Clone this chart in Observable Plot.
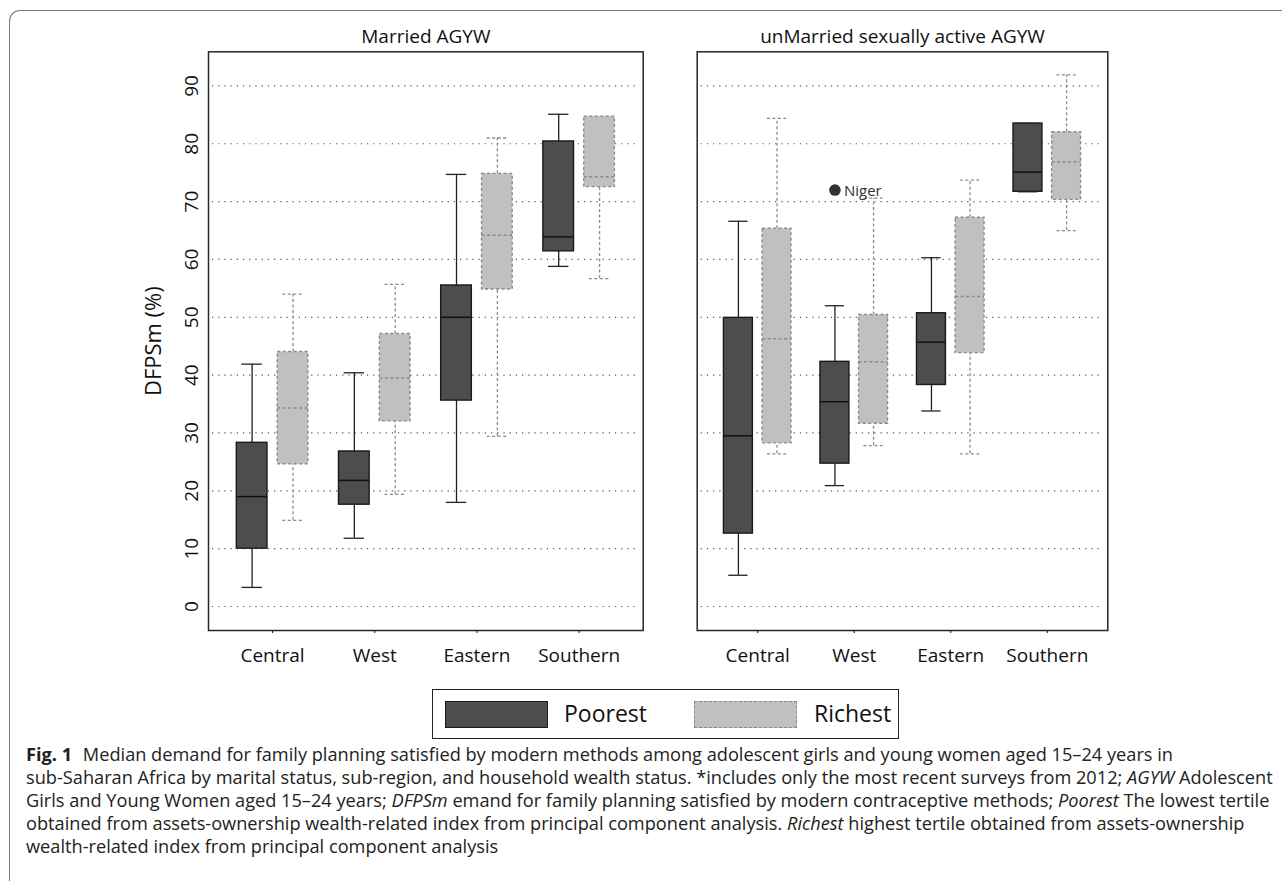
<!DOCTYPE html>
<html>
<head>
<meta charset="utf-8">
<script src="https://cdn.jsdelivr.net/npm/d3@7"></script>
<script src="https://cdn.jsdelivr.net/npm/@observablehq/plot@0.6"></script>
<style>
  html, body { margin: 0; padding: 0; background: #fff; }
  #root { position: relative; width: 1282px; height: 881px; overflow: hidden; font-family: "Open Sans", sans-serif; color: #111; }
  #frame { position: absolute; left: 9px; top: 10px; width: 1300px; height: 900px; border-top: 1.5px solid #7a7a7a; border-left: 1.5px solid #7a7a7a; border-top-left-radius: 11px; }
  #left { position: absolute; left: 0; top: 0; }
  #right { position: absolute; left: 660px; top: 0; }
  #legend { position: absolute; left: 432px; top: 689px; width: 467px; height: 50px; box-sizing: border-box; border: 1.5px solid #222; }
  #legend .sw { position: absolute; box-sizing: border-box; }
  #legend .lab { position: absolute; font-size: 23px; line-height: 26px; }
  #caption { position: absolute; left: 26px; top: 743px; font-size: 18.2px; line-height: 23px; color: #222; white-space: nowrap; }
  #caption b { font-weight: 700; margin-right: 6px; }
</style>
</head>
<body>
<div id="root">
  <div id="frame"></div>
  <div id="left"></div>
  <div id="right"></div>
  <div id="legend"></div>
  <div id="caption"></div>
</div>
<script>
// ---------- data ----------
const regions = ["Central", "West", "Eastern", "Southern"];
const wealthGroups = ["Poorest", "Richest"];
const panels = ["Married AGYW", "unMarried sexually active AGYW"];
const yTicks = [0, 10, 20, 30, 40, 50, 60, 70, 80, 90];
const yLabel = "DFPSm (%)";

// five-number summaries per region: [low whisker, Q1, median, Q3, high whisker]
const marriedPoorest = [
  [3.3, 10.0, 19.0, 28.3, 41.9],
  [11.8, 17.6, 21.8, 26.8, 40.4],
  [18.0, 35.6, 50.0, 55.5, 74.7],
  [58.8, 61.4, 63.9, 80.4, 85.1]
];
const marriedRichest = [
  [14.9, 24.6, 34.3, 44.0, 54.0],
  [19.4, 32.0, 39.5, 47.1, 55.7],
  [29.4, 54.8, 64.2, 74.8, 81.0],
  [56.7, 72.5, 74.3, 84.7, 84.7]
];
const unmarriedPoorest = [
  [5.4, 12.6, 29.5, 49.9, 66.6],
  [20.9, 24.7, 35.4, 42.3, 52.0],
  [33.8, 38.3, 45.7, 50.7, 60.3],
  [71.7, 71.7, 75.1, 83.5, 83.5]
];
const unmarriedRichest = [
  [26.4, 28.2, 46.3, 65.3, 84.4],
  [27.8, 31.6, 42.3, 50.4, 70.6],
  [26.4, 43.8, 53.6, 67.2, 73.7],
  [65.0, 70.3, 76.9, 82.0, 91.9]
];
const outliers = [
  {panel: "unMarried sexually active AGYW", region: "West", wealth: "Poorest", value: 72.0, label: "Niger"}
];

// ---------- table ----------
const summaries = {
  "Married AGYW": {Poorest: marriedPoorest, Richest: marriedRichest},
  "unMarried sexually active AGYW": {Poorest: unmarriedPoorest, Richest: unmarriedRichest}
};
const table = [];
for (const panel of panels) for (const wealth of wealthGroups) {
  summaries[panel][wealth].forEach((s, i) => {
    table.push({panel, wealth, region: regions[i], low: s[0], q1: s[1], median: s[2], q3: s[3], high: s[4]});
  });
}

// ---------- styles ----------
const wealthOffset = {Poorest: -0.2, Richest: 0.2};
const boxHalf = 0.15, capHalf = 0.1;
const wealthStyle = {
  Poorest: {fill: "#4d4d4d", stroke: "#1a1a1a", line: "#222", median: "#111", dash: null},
  Richest: {fill: "#c0c0c0", stroke: "#8a8a8a", line: "#8a8a8a", median: "#8a8a8a", dash: "3,2.5"}
};
const pos = d => regions.indexOf(d.region) + wealthOffset[d.wealth];

function panelPlot(panel, layout) {
  const rows = table.filter(d => d.panel === panel);
  const marks = [
    Plot.ruleY(yTicks, {stroke: "#555", strokeWidth: 1.2, strokeDasharray: "1.2,5", insetLeft: 4, insetRight: 4})
  ];
  for (const w of wealthGroups) {
    const s = wealthStyle[w];
    const data = rows.filter(d => d.wealth === w);
    const common = {stroke: s.line, strokeWidth: 1.3, strokeDasharray: s.dash};
    marks.push(
      Plot.ruleX(data, {x: pos, y1: "low", y2: "q1", ...common}),
      Plot.ruleX(data, {x: pos, y1: "q3", y2: "high", ...common}),
      Plot.ruleY(data, {y: "low", x1: d => pos(d) - capHalf, x2: d => pos(d) + capHalf, ...common}),
      Plot.ruleY(data, {y: "high", x1: d => pos(d) - capHalf, x2: d => pos(d) + capHalf, ...common}),
      Plot.rect(data, {x1: d => pos(d) - boxHalf, x2: d => pos(d) + boxHalf, y1: "q1", y2: "q3",
        fill: s.fill, stroke: s.stroke, strokeWidth: 1.4, strokeDasharray: s.dash}),
      Plot.ruleY(data, {y: "median", x1: d => pos(d) - boxHalf, x2: d => pos(d) + boxHalf,
        stroke: s.median, strokeWidth: 1.5, strokeDasharray: s.dash})
    );
  }
  const outs = outliers.filter(d => d.panel === panel);
  marks.push(
    Plot.dot(outs, {x: pos, y: "value", r: 5.8, fill: "#333", stroke: "none"}),
    Plot.text(outs, {x: pos, y: "value", text: "label", dx: 9, dy: 1, textAnchor: "start", fontSize: 15, fill: "#333"}),
    Plot.frame({stroke: "#262626", strokeWidth: 1.5}),
    Plot.text([panel], {frameAnchor: "top", textAnchor: "middle", dy: -22, fontSize: 19, fill: "#111"})
  );
  if (layout.yAxis) {
    marks.push(Plot.text([yLabel], {frameAnchor: "left", textAnchor: "middle", dx: -55, rotate: -90, fontSize: 22, fill: "#111"}));
  }
  return Plot.plot({
    width: layout.width,
    height: 680,
    marginLeft: layout.ml,
    marginRight: layout.mr,
    marginTop: 51.3,
    marginBottom: 50,
    style: {fontFamily: "Open Sans", fontSize: "19px", color: "#111", background: "transparent"},
    x: {type: "linear", domain: [-0.627, regions.length - 1 + 0.627], ticks: regions.map((r, i) => i),
        tickFormat: i => regions[i], tickSize: 3, tickPadding: 15, label: null},
    y: layout.yAxis
      ? {domain: [-4.15, 95.9], ticks: yTicks, tickSize: 0, tickRotate: -90, tickPadding: 11, label: null}
      : {domain: [-4.15, 95.9], axis: null},
    marks
  });
}

document.getElementById("left").appendChild(panelPlot(panels[0], {width: 660, ml: 208, mr: 17.3, yAxis: true}));
document.getElementById("right").appendChild(panelPlot(panels[1], {width: 622, ml: 36.7, mr: 174.7, yAxis: false}));

// ---------- legend ----------
const legend = document.getElementById("legend");
const swLeft = [12, 260.5], labLeft = [131, 381];
wealthGroups.forEach((w, k) => {
  const s = wealthStyle[w];
  const sw = document.createElement("div");
  sw.className = "sw";
  Object.assign(sw.style, {left: swLeft[k] + "px", top: "10.5px", width: "103px", height: "27px",
    background: s.fill, border: `1.3px ${s.dash ? "dashed" : "solid"} ${s.stroke}`});
  legend.appendChild(sw);
  const lab = document.createElement("div");
  lab.className = "lab";
  lab.textContent = w;
  Object.assign(lab.style, {left: labLeft[k] + "px", top: "10px"});
  legend.appendChild(lab);
});

// ---------- caption ----------
const captionLines = [
  '<b>Fig. 1</b> Median demand for family planning satisfied by modern methods among adolescent girls and young women aged 15–24 years in',
  'sub-Saharan Africa by marital status, sub-region, and household wealth status. *includes only the most recent surveys from 2012; <i>AGYW</i> Adolescent',
  'Girls and Young Women aged 15–24 years; <i>DFPSm</i> emand for family planning satisfied by modern contraceptive methods; <i>Poorest</i> The lowest tertile',
  'obtained from assets-ownership wealth-related index from principal component analysis. <i>Richest</i> highest tertile obtained from assets-ownership',
  'wealth-related index from principal component analysis'
];
document.getElementById("caption").innerHTML = captionLines.map(l => `<div>${l}</div>`).join("");
</script>
</body>
</html>
